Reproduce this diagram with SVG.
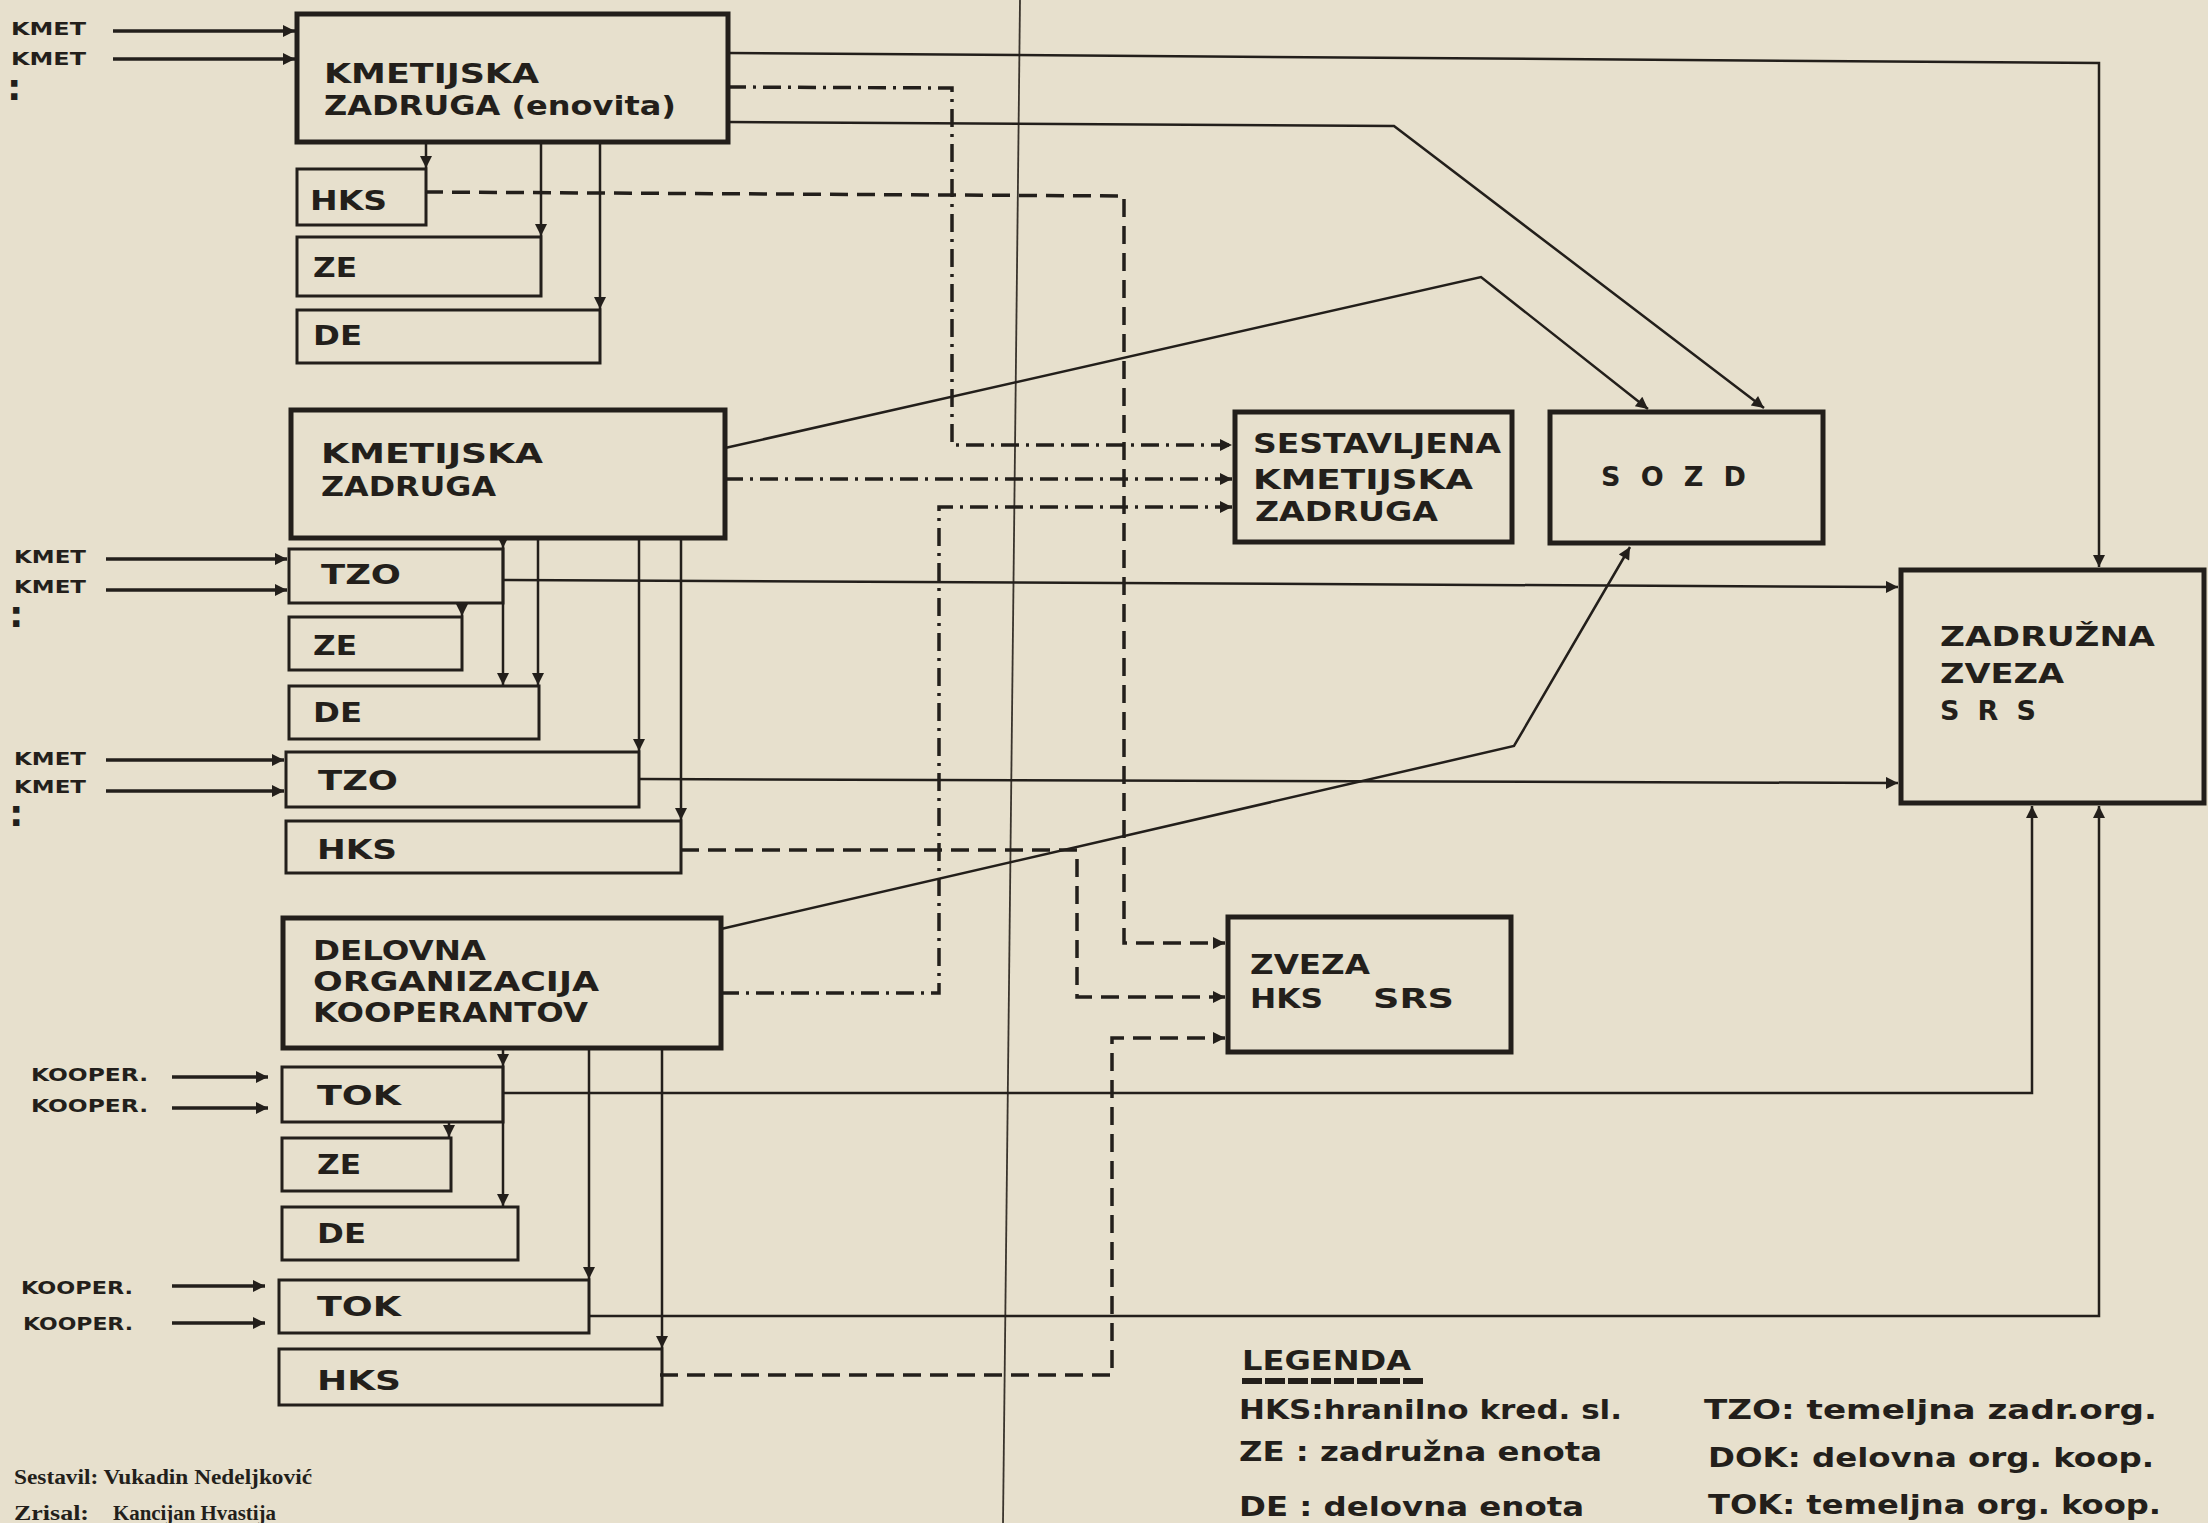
<svg xmlns="http://www.w3.org/2000/svg" width="2208" height="1523" viewBox="0 0 2208 1523">
<defs>
<style>
.bg{fill:#e7e0cd}
.mb{fill:none;stroke:#231f1b;stroke-width:5}
.sb{fill:none;stroke:#231f1b;stroke-width:3}
.ln{fill:none;stroke:#231f1b;stroke-width:2.5}
.th{fill:none;stroke:#231f1b;stroke-width:3.5}
.da{fill:none;stroke:#231f1b;stroke-width:3.5;stroke-dasharray:18 9}
.dd{fill:none;stroke:#231f1b;stroke-width:3.5;stroke-dasharray:18 7 3 7}
.fold{fill:none;stroke:#3a342d;stroke-width:1.8}
.lb{font-family:"DejaVu Sans","Liberation Sans",sans-serif;font-weight:bold;font-size:27px;fill:#231f1b}
.sm{font-family:"DejaVu Sans","Liberation Sans",sans-serif;font-weight:bold;font-size:17px;fill:#231f1b}
.dt{font-family:"DejaVu Sans","Liberation Sans",sans-serif;font-weight:bold;font-size:36px;fill:#231f1b}
.lg{font-family:"DejaVu Sans Condensed","Liberation Sans Narrow","Liberation Sans",sans-serif;font-weight:bold;font-size:27px;fill:#231f1b}
.cr{font-family:"Liberation Serif",serif;font-weight:bold;font-size:20px;fill:#231f1b}
</style>
<marker id="ah" viewBox="0 0 10 10" refX="10" refY="5" markerUnits="userSpaceOnUse" markerWidth="14" markerHeight="12" orient="auto"><path d="M0,0 L10,5 L0,10 z" fill="#231f1b"/></marker>
</defs>
<rect class="bg" x="0" y="0" width="2208" height="1523"/>
<line class="fold" x1="1020" y1="0" x2="1003" y2="1523"/>

<g id="connectors">
<path class="th" d="M113,31 H295" marker-end="url(#ah)"/>
<path class="th" d="M113,59 H295" marker-end="url(#ah)"/>
<path class="th" d="M106,559 H287" marker-end="url(#ah)"/>
<path class="th" d="M106,590 H287" marker-end="url(#ah)"/>
<path class="th" d="M106,760 H284" marker-end="url(#ah)"/>
<path class="th" d="M106,791 H284" marker-end="url(#ah)"/>
<path class="th" d="M172,1077 H268" marker-end="url(#ah)"/>
<path class="th" d="M172,1108 H268" marker-end="url(#ah)"/>
<path class="th" d="M172,1286 H265" marker-end="url(#ah)"/>
<path class="th" d="M172,1323 H265" marker-end="url(#ah)"/>
<path class="ln" d="M426,142 V168" marker-end="url(#ah)"/>
<path class="ln" d="M541,142 V236" marker-end="url(#ah)"/>
<path class="ln" d="M600,142 V309" marker-end="url(#ah)"/>
<path class="ln" d="M503,538 V548" marker-end="url(#ah)"/>
<path class="ln" d="M503,548 V685" marker-end="url(#ah)"/>
<path class="ln" d="M462,603 V616" marker-end="url(#ah)"/>
<path class="ln" d="M538,538 V685" marker-end="url(#ah)"/>
<path class="ln" d="M639,538 V751" marker-end="url(#ah)"/>
<path class="ln" d="M681,538 V820" marker-end="url(#ah)"/>
<path class="ln" d="M503,1048 V1066" marker-end="url(#ah)"/>
<path class="ln" d="M503,1066 V1206" marker-end="url(#ah)"/>
<path class="ln" d="M449,1122 V1137" marker-end="url(#ah)"/>
<path class="ln" d="M589,1048 V1279" marker-end="url(#ah)"/>
<path class="ln" d="M662,1048 V1348" marker-end="url(#ah)"/>
<path class="ln" d="M728,53 L2099,63 V567" marker-end="url(#ah)"/>
<path class="ln" d="M503,580 L1898,587" marker-end="url(#ah)"/>
<path class="ln" d="M639,779 L1898,783" marker-end="url(#ah)"/>
<path class="ln" d="M503,1093 H2032 V806" marker-end="url(#ah)"/>
<path class="ln" d="M589,1316 H2099 V806" marker-end="url(#ah)"/>
<path class="ln" d="M728,122 L1394,126 L1764,408" marker-end="url(#ah)"/>
<path class="ln" d="M725,448 L1481,277 L1648,409" marker-end="url(#ah)"/>
<path class="ln" d="M721,929 L1514,746 L1630,547" marker-end="url(#ah)"/>
<path class="dd" d="M728,87 L952,88 V445 H1232" marker-end="url(#ah)"/>
<path class="dd" d="M725,479 H1232" marker-end="url(#ah)"/>
<path class="dd" d="M721,993 H939 V507 H1232" marker-end="url(#ah)"/>
<path class="da" d="M425,192 L1124,196 V943 H1225" marker-end="url(#ah)"/>
<path class="da" d="M681,850 H1077 V997 H1225" marker-end="url(#ah)"/>
<path class="da" d="M660,1375 H1112 V1038 H1225" marker-end="url(#ah)"/>
</g>

<g id="kz-enovita">
<rect class="mb" x="297" y="14" width="431" height="128"/>
<text class="lb" x="324" y="83" textLength="215" lengthAdjust="spacingAndGlyphs">KMETIJSKA</text>
<text class="lb" x="324" y="115" textLength="352" lengthAdjust="spacingAndGlyphs">ZADRUGA (enovita)</text>
</g>
<g id="hks1"><rect class="sb" x="297" y="169" width="129" height="56"/><text class="lb" x="310" y="210" textLength="77" lengthAdjust="spacingAndGlyphs">HKS</text></g>
<g id="ze1"><rect class="sb" x="297" y="237" width="244" height="59"/><text class="lb" x="313" y="277" textLength="44" lengthAdjust="spacingAndGlyphs">ZE</text></g>
<g id="de1"><rect class="sb" x="297" y="310" width="303" height="53"/><text class="lb" x="313" y="345" textLength="49" lengthAdjust="spacingAndGlyphs">DE</text></g>

<g id="kz2">
<rect class="mb" x="291" y="410" width="434" height="128"/>
<text class="lb" x="321" y="463" textLength="222" lengthAdjust="spacingAndGlyphs">KMETIJSKA</text>
<text class="lb" x="321" y="496" textLength="175" lengthAdjust="spacingAndGlyphs">ZADRUGA</text>
</g>
<g id="tzo1"><rect class="sb" x="289" y="549" width="214" height="54"/><text class="lb" x="321" y="584" textLength="80" lengthAdjust="spacingAndGlyphs">TZO</text></g>
<g id="ze2"><rect class="sb" x="289" y="617" width="173" height="53"/><text class="lb" x="313" y="655" textLength="44" lengthAdjust="spacingAndGlyphs">ZE</text></g>
<g id="de2"><rect class="sb" x="289" y="686" width="250" height="53"/><text class="lb" x="313" y="722" textLength="49" lengthAdjust="spacingAndGlyphs">DE</text></g>
<g id="tzo2"><rect class="sb" x="286" y="752" width="353" height="55"/><text class="lb" x="318" y="790" textLength="80" lengthAdjust="spacingAndGlyphs">TZO</text></g>
<g id="hks2"><rect class="sb" x="286" y="821" width="395" height="52"/><text class="lb" x="317" y="859" textLength="80" lengthAdjust="spacingAndGlyphs">HKS</text></g>

<g id="dok">
<rect class="mb" x="283" y="918" width="438" height="130"/>
<text class="lb" x="313" y="960" textLength="173" lengthAdjust="spacingAndGlyphs">DELOVNA</text>
<text class="lb" x="313" y="991" textLength="286" lengthAdjust="spacingAndGlyphs">ORGANIZACIJA</text>
<text class="lb" x="313" y="1022" textLength="275" lengthAdjust="spacingAndGlyphs">KOOPERANTOV</text>
</g>
<g id="tok1"><rect class="sb" x="282" y="1067" width="221" height="55"/><text class="lb" x="317" y="1105" textLength="84" lengthAdjust="spacingAndGlyphs">TOK</text></g>
<g id="ze3"><rect class="sb" x="282" y="1138" width="169" height="53"/><text class="lb" x="317" y="1174" textLength="44" lengthAdjust="spacingAndGlyphs">ZE</text></g>
<g id="de3"><rect class="sb" x="282" y="1207" width="236" height="53"/><text class="lb" x="317" y="1243" textLength="49" lengthAdjust="spacingAndGlyphs">DE</text></g>
<g id="tok2"><rect class="sb" x="279" y="1280" width="310" height="53"/><text class="lb" x="317" y="1316" textLength="84" lengthAdjust="spacingAndGlyphs">TOK</text></g>
<g id="hks3"><rect class="sb" x="279" y="1349" width="383" height="56"/><text class="lb" x="317" y="1390" textLength="84" lengthAdjust="spacingAndGlyphs">HKS</text></g>

<g id="skz">
<rect class="mb" x="1235" y="412" width="277" height="130"/>
<text class="lb" x="1253" y="453" textLength="248" lengthAdjust="spacingAndGlyphs">SESTAVLJENA</text>
<text class="lb" x="1253" y="489" textLength="220" lengthAdjust="spacingAndGlyphs">KMETIJSKA</text>
<text class="lb" x="1255" y="521" textLength="183" lengthAdjust="spacingAndGlyphs">ZADRUGA</text>
</g>
<g id="sozd">
<rect class="mb" x="1550" y="412" width="273" height="131"/>
<text class="lb" x="1601" y="486" textLength="145" lengthAdjust="spacing">S O Z D</text>
</g>
<g id="zz-srs">
<rect class="mb" x="1901" y="570" width="303" height="233"/>
<text class="lb" x="1940" y="646" textLength="215" lengthAdjust="spacingAndGlyphs">ZADRUŽNA</text>
<text class="lb" x="1940" y="683" textLength="124" lengthAdjust="spacingAndGlyphs">ZVEZA</text>
<text class="lb" x="1940" y="720" textLength="96" lengthAdjust="spacing">S R S</text>
</g>
<g id="zveza-hks">
<rect class="mb" x="1228" y="917" width="283" height="135"/>
<text class="lb" x="1250" y="974" textLength="120" lengthAdjust="spacingAndGlyphs">ZVEZA</text>
<text class="lb" x="1250" y="1008" textLength="73" lengthAdjust="spacingAndGlyphs">HKS</text>
<text class="lb" x="1373" y="1008" textLength="81" lengthAdjust="spacingAndGlyphs">SRS</text>
</g>

<g id="inputs">
<text class="sm" x="11" y="35" textLength="75" lengthAdjust="spacingAndGlyphs">KMET</text>
<text class="sm" x="11" y="65" textLength="75" lengthAdjust="spacingAndGlyphs">KMET</text>
<text class="dt" x="7" y="100">:</text>
<text class="sm" x="14" y="563" textLength="72" lengthAdjust="spacingAndGlyphs">KMET</text>
<text class="sm" x="14" y="593" textLength="72" lengthAdjust="spacingAndGlyphs">KMET</text>
<text class="dt" x="9" y="627">:</text>
<text class="sm" x="14" y="765" textLength="72" lengthAdjust="spacingAndGlyphs">KMET</text>
<text class="sm" x="14" y="793" textLength="72" lengthAdjust="spacingAndGlyphs">KMET</text>
<text class="dt" x="9" y="826">:</text>
<text class="sm" x="31" y="1081" textLength="117" lengthAdjust="spacingAndGlyphs">KOOPER.</text>
<text class="sm" x="31" y="1112" textLength="117" lengthAdjust="spacingAndGlyphs">KOOPER.</text>
<text class="sm" x="21" y="1294" textLength="112" lengthAdjust="spacingAndGlyphs">KOOPER.</text>
<text class="sm" x="23" y="1330" textLength="110" lengthAdjust="spacingAndGlyphs">KOOPER.</text>
</g>

<g id="legend">
<text class="lg" x="1242" y="1370" textLength="169" lengthAdjust="spacingAndGlyphs">LEGENDA</text>
<line x1="1242" y1="1381" x2="1423" y2="1381" stroke="#231f1b" stroke-width="6" stroke-dasharray="20 3"/>
<text class="lg" x="1239" y="1419" textLength="383" lengthAdjust="spacingAndGlyphs">HKS:hranilno kred. sl.</text>
<text class="lg" x="1239" y="1461" textLength="363" lengthAdjust="spacingAndGlyphs">ZE : zadružna enota</text>
<text class="lg" x="1239" y="1516" textLength="345" lengthAdjust="spacingAndGlyphs">DE : delovna enota</text>
<text class="lg" x="1704" y="1419" textLength="453" lengthAdjust="spacingAndGlyphs">TZO: temeljna zadr.org.</text>
<text class="lg" x="1708" y="1467" textLength="446" lengthAdjust="spacingAndGlyphs">DOK: delovna org. koop.</text>
<text class="lg" x="1708" y="1514" textLength="453" lengthAdjust="spacingAndGlyphs">TOK: temeljna org. koop.</text>
</g>

<g id="credits">
<text class="cr" x="14" y="1484" textLength="298" lengthAdjust="spacingAndGlyphs">Sestavil: Vukadin Nedeljković</text>
<text class="cr" x="14" y="1520" textLength="75" lengthAdjust="spacingAndGlyphs">Zrisal:</text>
<text class="cr" x="113" y="1520" textLength="163" lengthAdjust="spacingAndGlyphs">Kancijan Hvastija</text>
</g>
</svg>
